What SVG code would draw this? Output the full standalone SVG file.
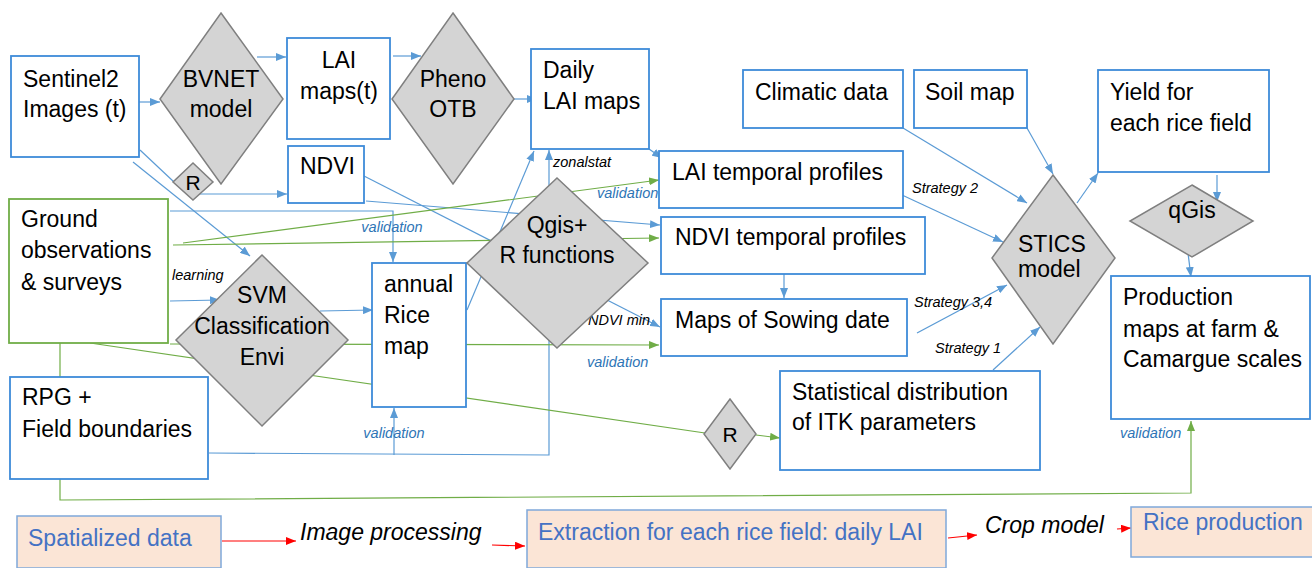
<svg xmlns="http://www.w3.org/2000/svg" width="1312" height="568" viewBox="0 0 1312 568">
  <defs>
    <marker id="ab" markerUnits="userSpaceOnUse" markerWidth="10" markerHeight="8" refX="10" refY="4" orient="auto">
      <path d="M0,0 L10,4 L0,8 z" fill="#5B9BD5"/>
    </marker>
    <marker id="ag" markerUnits="userSpaceOnUse" markerWidth="10" markerHeight="8" refX="10" refY="4" orient="auto">
      <path d="M0,0 L10,4 L0,8 z" fill="#70AD47"/>
    </marker>
    <marker id="ar" markerUnits="userSpaceOnUse" markerWidth="10" markerHeight="8" refX="10" refY="4" orient="auto">
      <path d="M0,0 L10,4 L0,8 z" fill="#FF0000"/>
    </marker>
  </defs>
  <style>
    .box { fill: #FFFFFF; stroke: #3D8BD9; stroke-width: 1.8; }
    .gbox { fill: #FFFFFF; stroke: #70AD47; stroke-width: 1.8; }
    .dia { fill: #D4D4D4; stroke: #7F7F7F; stroke-width: 1.5; }
    .leg { fill: #FBE5D6; stroke: #7FA8DA; stroke-width: 1.5; }
    .t { font-family: "Liberation Sans", Arial, sans-serif; font-size: 23px; fill: #000000; }
    .tc { text-anchor: middle; }
    .lt { font-family: "Liberation Sans", Arial, sans-serif; font-size: 23px; fill: #4472C4; }
    .it { font-family: "Liberation Sans", Arial, sans-serif; font-size: 23px; font-style: italic; fill: #000000; }
    .sm { font-family: "Liberation Sans", Arial, sans-serif; font-size: 14.5px; font-style: italic; fill: #000000; }
    .val { font-family: "Liberation Sans", Arial, sans-serif; font-size: 14.5px; font-style: italic; fill: #2E75B6; }
    .cb { fill: none; stroke: #5B9BD5; stroke-width: 1.2; }
    .cg { fill: none; stroke: #70AD47; stroke-width: 1.2; }
    .cr { fill: none; stroke: #FF0000; stroke-width: 1.2; }
  </style>
  <rect width="1312" height="568" fill="#FFFFFF"/>

  <!-- connectors, drawn first so the nodes cover the parts that run behind them -->
  <g id="connectors">
    <line class="cb" x1="132" y1="102" x2="160" y2="102" marker-end="url(#ab)"/>
    <line class="cb" x1="257" y1="57" x2="286" y2="57" marker-end="url(#ab)"/>
    <line class="cb" x1="393" y1="56" x2="421" y2="56" marker-end="url(#ab)"/>
    <line class="cb" x1="514" y1="99" x2="537" y2="99" marker-end="url(#ab)"/>
    <line class="cb" x1="200" y1="194" x2="287" y2="194" marker-end="url(#ab)"/>
    <line class="cb" x1="140" y1="150" x2="174" y2="182"/>
    <line class="cb" x1="133" y1="162" x2="250" y2="256" marker-end="url(#ab)"/>
    <polyline class="cb" points="170,211 393,211 393,262" marker-end="url(#ab)"/>
    <line class="cb" x1="170" y1="301" x2="220" y2="300" marker-end="url(#ab)"/>
    <line class="cb" x1="320" y1="311" x2="373" y2="310" marker-end="url(#ab)"/>
    <line class="cb" x1="467" y1="310" x2="534" y2="151" marker-end="url(#ab)"/>
    <polyline class="cb" points="209,453 549,455 549,150" marker-end="url(#ab)"/>
    <line class="cb" x1="394" y1="455" x2="394" y2="408" marker-end="url(#ab)"/>
    <line class="cb" x1="649" y1="149" x2="662" y2="158" marker-end="url(#ab)"/>
    <line class="cb" x1="364" y1="176" x2="660" y2="327" marker-end="url(#ab)"/>
    <line class="cb" x1="366" y1="201" x2="660" y2="225" marker-end="url(#ab)"/>
    <line class="cb" x1="784" y1="272" x2="784" y2="298" marker-end="url(#ab)"/>
    <line class="cb" x1="902" y1="195" x2="1003" y2="242" marker-end="url(#ab)"/>
    <line class="cb" x1="903" y1="128" x2="1027" y2="203" marker-end="url(#ab)"/>
    <line class="cb" x1="1027" y1="128" x2="1053" y2="174" marker-end="url(#ab)"/>
    <line class="cb" x1="1077" y1="203" x2="1098" y2="173" marker-end="url(#ab)"/>
    <line class="cb" x1="1217" y1="175" x2="1217" y2="202" marker-end="url(#ab)"/>
    <line class="cb" x1="1188" y1="253" x2="1191" y2="277" marker-end="url(#ab)"/>
    <line class="cb" x1="917" y1="333" x2="1007" y2="285" marker-end="url(#ab)"/>
    <line class="cb" x1="993" y1="370" x2="1040" y2="327" marker-end="url(#ab)"/>

    <line class="cg" x1="183" y1="243" x2="659" y2="180" marker-end="url(#ag)"/>
    <line class="cg" x1="173" y1="245" x2="659" y2="238" marker-end="url(#ag)"/>
    <line class="cg" x1="170" y1="344" x2="659" y2="345" marker-end="url(#ag)"/>
    <line class="cg" x1="90" y1="343" x2="705" y2="433"/>
    <line class="cg" x1="756" y1="435" x2="780" y2="438" marker-end="url(#ag)"/>
    <polyline class="cg" points="60,343 60,500 1191,493 1191,421" marker-end="url(#ag)"/>

    <line class="cr" x1="222" y1="541" x2="296" y2="541" marker-end="url(#ar)"/>
    <line class="cr" x1="492" y1="545" x2="525" y2="546" marker-end="url(#ar)"/>
    <line class="cr" x1="948" y1="538" x2="977" y2="535" marker-end="url(#ar)"/>
    <line class="cr" x1="1117" y1="529" x2="1131" y2="528" marker-end="url(#ar)"/>

    <text class="val tc" x="392" y="232">validation</text>
    <text class="sm" x="172" y="280">learning</text>
    <text class="val tc" x="394" y="438">validation</text>
    <text class="sm" x="553" y="167">zonalstat</text>
    <text class="val" x="597" y="198">validation</text>
    <text class="sm" x="588" y="325">NDVI min</text>
    <text class="val" x="587" y="367">validation</text>
    <text class="sm" x="912" y="193">Strategy 2</text>
    <text class="sm" x="914" y="307">Strategy 3,4</text>
    <text class="sm" x="935" y="353">Strategy 1</text>
    <text class="val" x="1120" y="438">validation</text>
  </g>

  <g id="sentinel2">
    <rect class="box" x="11" y="56" width="128" height="101"/>
    <text class="t" x="23" y="87">Sentinel2</text>
    <text class="t" x="23" y="117">Images (t)</text>
  </g>
  <g id="bvnet">
    <polygon class="dia" points="221,13 283,99 221,184 160,99"/>
    <text class="t tc" x="221" y="87">BVNET</text>
    <text class="t tc" x="221" y="117">model</text>
  </g>
  <g id="lai-maps">
    <rect class="box" x="287" y="38" width="103" height="101"/>
    <text class="t tc" x="339" y="68">LAI</text>
    <text class="t tc" x="339" y="99">maps(t)</text>
  </g>
  <g id="pheno">
    <polygon class="dia" points="453,13 514,99 453,184 392,99"/>
    <text class="t tc" x="453" y="87">Pheno</text>
    <text class="t tc" x="453" y="117">OTB</text>
  </g>
  <g id="daily-lai">
    <rect class="box" x="531" y="49" width="118" height="100"/>
    <text class="t" x="543" y="78">Daily</text>
    <text class="t" x="543" y="109">LAI maps</text>
  </g>
  <g id="climatic">
    <rect class="box" x="743" y="70" width="160" height="58"/>
    <text class="t" x="755" y="100">Climatic data</text>
  </g>
  <g id="soil">
    <rect class="box" x="914" y="70" width="113" height="58"/>
    <text class="t" x="925" y="100">Soil map</text>
  </g>
  <g id="yield">
    <rect class="box" x="1098" y="70" width="171" height="102"/>
    <text class="t" x="1110" y="100">Yield for</text>
    <text class="t" x="1110" y="131">each rice field</text>
  </g>
  <g id="r-ndvi">
    <polygon class="dia" points="193,163 213,182 193,200 173,182"/>
    <text class="t tc" x="193" y="190" style="font-size:21px">R</text>
  </g>
  <g id="ndvi">
    <rect class="box" x="288" y="146" width="76" height="57"/>
    <text class="t" x="300" y="174">NDVI</text>
  </g>
  <g id="lai-profiles">
    <rect class="box" x="659" y="151" width="244" height="57"/>
    <text class="t" x="672" y="180">LAI temporal profiles</text>
  </g>
  <g id="ground">
    <rect class="gbox" x="9" y="199" width="159" height="144"/>
    <text class="t" x="21" y="227">Ground</text>
    <text class="t" x="21" y="258">observations</text>
    <text class="t" x="21" y="290">&amp; surveys</text>
  </g>
  <g id="svm">
    <polygon class="dia" points="262,255 348,340 262,426 176,340"/>
    <text class="t tc" x="262" y="303">SVM</text>
    <text class="t tc" x="262" y="334">Classification</text>
    <text class="t tc" x="262" y="365">Envi</text>
  </g>
  <g id="rice-map">
    <rect class="box" x="372" y="263" width="94" height="144"/>
    <text class="t" x="384" y="292">annual</text>
    <text class="t" x="384" y="323">Rice</text>
    <text class="t" x="384" y="354">map</text>
  </g>
  <g id="qgis-r">
    <polygon class="dia" points="557,178 648,263 557,348 467,263"/>
    <text class="t tc" x="557" y="233">Qgis+</text>
    <text class="t tc" x="557" y="263">R functions</text>
  </g>
  <g id="ndvi-profiles">
    <rect class="box" x="661" y="217" width="264" height="57"/>
    <text class="t" x="675" y="245">NDVI temporal profiles</text>
  </g>
  <g id="sowing">
    <rect class="box" x="661" y="299" width="246" height="57"/>
    <text class="t" x="675" y="328">Maps of Sowing date</text>
  </g>
  <g id="statistical">
    <rect class="box" x="780" y="371" width="260" height="99"/>
    <text class="t" x="792" y="400">Statistical distribution</text>
    <text class="t" x="792" y="430">of ITK parameters</text>
  </g>
  <g id="r-itk">
    <polygon class="dia" points="730,399 756,434 730,469 704,434"/>
    <text class="t tc" x="730" y="442" style="font-size:21px">R</text>
  </g>
  <g id="rpg">
    <rect class="box" x="10" y="377" width="198" height="102"/>
    <text class="t" x="22" y="405">RPG +</text>
    <text class="t" x="22" y="437">Field boundaries</text>
  </g>
  <g id="stics">
    <polygon class="dia" points="1053,175 1115,258 1053,344 992,258"/>
    <text class="t" x="1018" y="252">STICS</text>
    <text class="t" x="1018" y="277">model</text>
  </g>
  <g id="qgis">
    <polygon class="dia" points="1192,185 1253,221 1192,257 1130,221"/>
    <text class="t tc" x="1192" y="218">qGis</text>
  </g>
  <g id="production">
    <rect class="box" x="1111" y="276" width="199" height="143"/>
    <text class="t" x="1123" y="305">Production</text>
    <text class="t" x="1123" y="337">maps at farm &amp;</text>
    <text class="t" x="1123" y="367">Camargue scales</text>
  </g>

  <!-- legend row -->
  <g id="leg-spatialized">
    <rect class="leg" x="17" y="516" width="204" height="52"/>
    <text class="lt" x="28" y="546">Spatialized data</text>
  </g>
  <g id="leg-image-processing">
    <text class="it" x="300" y="540">Image processing</text>
  </g>
  <g id="leg-extraction">
    <rect class="leg" x="527" y="510" width="419" height="58"/>
    <text class="lt" x="538" y="540">Extraction for each rice field: daily LAI</text>
  </g>
  <g id="leg-crop-model">
    <text class="it" x="985" y="533">Crop model</text>
  </g>
  <g id="leg-rice-production">
    <rect class="leg" x="1131" y="507" width="190" height="50"/>
    <text class="lt" x="1143" y="530">Rice production</text>
  </g>
</svg>
